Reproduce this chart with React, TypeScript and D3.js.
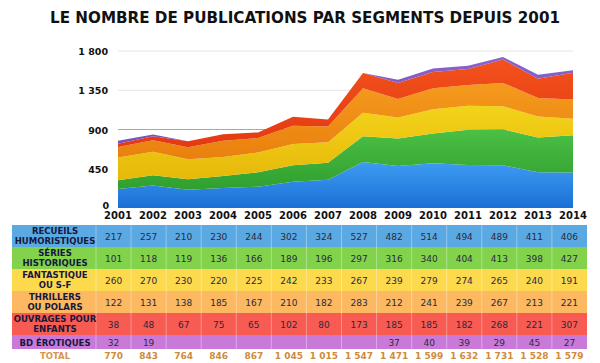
import React from 'react';
import * as d3 from 'd3';

const years = [2001, 2002, 2003, 2004, 2005, 2006, 2007, 2008, 2009, 2010, 2011, 2012, 2013, 2014];

const segments = [
  ['RECUEILS', 'HUMORISTIQUES'],
  ['SÉRIES', 'HISTORIQUES'],
  ['FANTASTIQUE', 'OU S-F'],
  ['THRILLERS', 'OU POLARS'],
  ['OUVRAGES POUR', 'ENFANTS'],
  ['BD ÉROTIQUES'],
];

const recueils = [217, 257, 210, 230, 244, 302, 324, 527, 482, 514, 494, 489, 411, 406];
const series = [101, 118, 119, 136, 166, 189, 196, 297, 316, 340, 404, 413, 398, 427];
const fantastique = [260, 270, 230, 220, 225, 242, 233, 267, 239, 279, 274, 265, 240, 191];
const thrillers = [122, 131, 138, 185, 167, 210, 182, 283, 212, 241, 239, 267, 213, 221];
const enfants = [38, 48, 67, 75, 65, 102, 80, 173, 185, 185, 182, 268, 221, 307];
const erotiques = [32, 19, null, null, null, null, null, null, 37, 40, 39, 29, 45, 27];
const totals = ['770', '843', '764', '846', '867', '1 045', '1 015', '1 547', '1 471', '1 599', '1 632', '1 731', '1 528', '1 579'];

const yTicks = [0, 450, 900, 1350, 1800];

const rowsData = [recueils, series, fantastique, thrillers, enfants, erotiques];

const areaTop = ['#3d9cf2', '#4cbf45', '#f3d31a', '#f59a1e', '#f2511c', '#8a62c8'];
const areaBottom = ['#1b6fd6', '#2f9f2e', '#e6b80a', '#e9800d', '#e43a12', '#7a50b8'];
const rowFill = ['#5aa9e2', '#82d24c', '#fdd94e', '#fcb962', '#f75b52', '#c97ad9'];

const FONT = '"DejaVu Sans", sans-serif';

export default function App() {
  const width = 600;
  const height = 363;

  const x = d3.scalePoint<number>().domain(years).range([118, 573]);
  const y = d3.scaleLinear().domain([0, 1800]).range([208, 51]);

  const table = years.map((yr, i) => {
    const row: any = { year: yr };
    rowsData.forEach((arr, k) => { row['s' + k] = arr[i] ?? 0; });
    return row;
  });
  const keys = rowsData.map((_, k) => 's' + k);
  const stacked = d3.stack<any>().keys(keys)(table);

  const area = d3.area<any>()
    .x((d) => x(d.data.year) as number)
    .y0((d) => y(d[0]))
    .y1((d) => y(d[1]));

  const col = d3.scaleBand<number>().domain(years).range([96, 587]);
  const rowTop = d3.scaleLinear().domain([0, 5]).range([225, 335]);
  const rowH = [22, 22, 22, 22, 22, 14];

  return (
    <svg width={width} height={height} style={{ position: 'absolute', left: 0, top: 0, background: '#fff' }}>
      <defs>
        {areaTop.map((c, i) => (
          <linearGradient key={i} id={'g' + i} x1="0" y1="0" x2="0" y2="1">
            <stop offset="0" stopColor={c} />
            <stop offset="1" stopColor={areaBottom[i]} />
          </linearGradient>
        ))}
      </defs>

      <text x={305} y={23} textAnchor="middle" fontFamily={FONT} fontWeight="bold" fontSize={15}
        textLength={510} lengthAdjust="spacingAndGlyphs" fill="#111">
        LE NOMBRE DE PUBLICATIONS PAR SEGMENTS DEPUIS 2001
      </text>

      {yTicks.filter((t) => t > 0).map((t) => (
        <line key={t} x1={118} x2={573} y1={y(t)} y2={y(t)}
          stroke={t === 900 ? '#a8a8a8' : '#e4e4e4'} strokeWidth={1} />
      ))}
      {yTicks.map((t) => (
        <text key={t} x={t === 0 ? 109 : 108} y={t === 0 ? y(t) + 1 : y(t) + 4} textAnchor="end" fontFamily={FONT}
          fontWeight="bold" fontSize={9.5} fill="#111">
          {d3.format(',')(t).replace(',', ' ')}
        </text>
      ))}

      {stacked.map((s, i) => (
        <path key={i} d={area(s) as string} fill={`url(#g${i})`} />
      ))}

      {years.map((yr) => (
        <text key={yr} x={x(yr)} y={219} textAnchor="middle" fontFamily={FONT} fontWeight="bold"
          fontSize={10} fill="#111">
          {yr}
        </text>
      ))}

      {rowsData.map((arr, k) => {
        const top = rowTop(k);
        const h = rowH[k];
        const label = segments[k];
        return (
          <g key={k}>
            <rect x={12} y={top} width={575} height={h} fill={rowFill[k]} />
            {years.map((yr) => (
              <line key={yr} x1={col(yr)} x2={col(yr)} y1={top} y2={top + h} stroke="#ffffff" strokeOpacity={0.35} />
            ))}
            {label.map((l, j) => (
              <text key={j} x={55} y={label.length === 1 ? top + h / 2 + 3.5 : top + 9 + j * 10}
                textAnchor="middle" fontFamily={FONT} fontWeight="bold" fontSize={8.5} fill="#14183c">
                {l}
              </text>
            ))}
            {arr.map((v, i) => v == null ? null : (
              <text key={i} x={(col(years[i]) as number) + col.bandwidth() / 2} y={top + h / 2 + 3.5}
                textAnchor="middle" fontFamily={FONT} fontSize={9} fill="#2a2a40">
                {v}
              </text>
            ))}
          </g>
        );
      })}

      <text x={55} y={359} textAnchor="middle" fontFamily={FONT} fontWeight="bold" fontSize={8.5} fill="#d9944a">
        TOTAL
      </text>
      {totals.map((t, i) => (
        <text key={i} x={(col(years[i]) as number) + col.bandwidth() / 2} y={359} textAnchor="middle"
          fontFamily={FONT} fontWeight="bold" fontSize={9} fill="#d08a3e">
          {t}
        </text>
      ))}
    </svg>
  );
}
